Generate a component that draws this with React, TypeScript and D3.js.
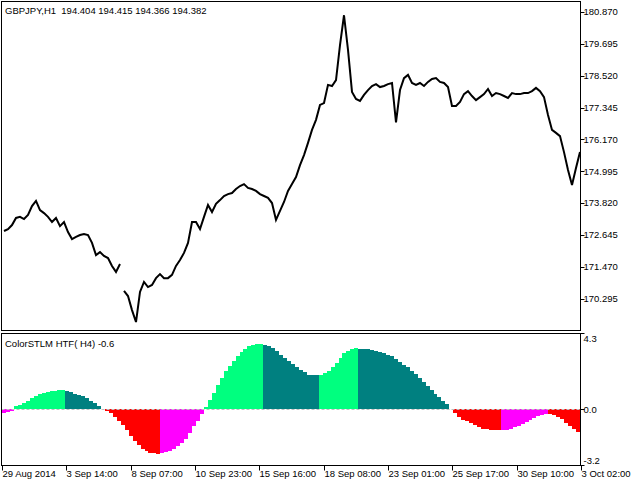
import React from "react";
import * as d3 from "d3";

const title = "GBPJPY,H1  194.404 194.415 194.366 194.382";
const indTitle = "ColorSTLM HTF( H4) -0.6";

// price axis ticks
const priceTicks = [180.87, 179.695, 178.52, 177.345, 176.17, 174.995, 173.82, 172.645, 171.47, 170.295];

// close prices, one per 4 hours
const closes = [
  172.79, 172.86, 173.01, 173.27, 173.31, 173.23, 173.38, 173.71, 173.9, 173.56,
  173.45, 173.31, 173.12, 173.27, 172.97, 173.12, 172.75, 172.49, 172.57, 172.64,
  172.68, 172.64, 172.35, 171.9, 172.01, 171.87, 171.79, 171.5, 171.28, 171.57,
  170.58, 170.39, 169.87, 169.43, 170.54, 170.91, 170.72, 170.8, 171.05, 171.2,
  171.05, 171.05, 171.17, 171.5, 171.72, 171.98, 172.35, 173.12, 173.12, 172.86,
  173.31, 173.75, 173.49, 173.79, 173.93, 174.08, 174.15, 174.19, 174.34, 174.45,
  174.52, 174.38, 174.34, 174.27, 174.15, 174.08, 174.01, 173.82, 173.2, 173.53,
  173.86, 174.27, 174.52, 174.78, 175.22, 175.59, 176.04, 176.52, 176.89, 177.44,
  177.51, 178.18, 178.14, 178.36, 179.65, 180.75, 179.47, 177.92, 177.66, 177.59,
  177.81, 177.99, 178.14, 178.21, 178.1, 178.14, 178.21, 178.25, 176.8, 177.99,
  178.43, 178.55, 178.25, 178.18, 178.25, 178.14, 178.29, 178.4, 178.43, 178.29,
  178.25, 178.1, 177.4, 177.4, 177.55, 177.84, 177.95, 177.77, 177.62, 177.73,
  177.84, 178.03, 177.77, 177.88, 177.84, 177.77, 177.7, 177.88, 177.84, 177.84,
  177.88, 177.88, 177.95, 178.07, 177.95, 177.73, 177.07, 176.52, 176.41, 176.29,
  175.7, 175.04, 174.49, 175.11, 175.7,
];
const gapAfter = 29; // weekend gap

// ColorSTLM HTF(H4) values
const stlm = [
  -0.25, -0.2, -0.15,
  0.13, 0.23, 0.32, 0.45, 0.61, 0.74, 0.83, 0.91, 0.97, 1.0, 1.02, 1.04, 1.05,
  1.02, 0.95, 0.85, 0.78, 0.72, 0.61, 0.45, 0.3, 0.17,
  0,
  -0.15, -0.25, -0.49, -0.68, -0.91, -1.19, -1.53, -1.82, -2.08, -2.27, -2.42, -2.5, -2.54, -2.55,
  -2.54, -2.48, -2.39, -2.27, -2.14, -1.95, -1.7, -1.38, -1.0, -0.68, -0.3,
  0.11, 0.51, 0.89, 1.36, 1.74, 2.12, 2.41, 2.69, 2.97, 3.22, 3.41, 3.54, 3.64, 3.67, 3.69,
  3.64, 3.54, 3.45, 3.26, 3.03, 2.88, 2.73, 2.54, 2.35, 2.22, 2.08, 1.89, 1.89, 1.89,
  1.93, 2.03, 2.16, 2.35, 2.59, 2.88, 3.16, 3.3, 3.41, 3.42,
  3.41, 3.41, 3.39, 3.35, 3.3, 3.22, 3.16, 3.07, 2.97, 2.82, 2.65, 2.5, 2.35, 2.16, 1.97, 1.74,
  1.52, 1.27, 1.04, 0.83, 0.64, 0.45, 0.27,
  0,
  -0.25, -0.49, -0.63, -0.72, -0.83, -0.95, -1.06, -1.14, -1.17, -1.21, -1.23, -1.23,
  -1.22, -1.21, -1.16, -1.06, -0.97, -0.87, -0.78, -0.64, -0.53, -0.44, -0.34, -0.3,
  -0.31, -0.38, -0.45, -0.57, -0.81, -1.0, -1.14, -1.33,
];
const indTicks = [4.3, 0.0, -3.2];

const timeLabels = [
  "29 Aug 2014", "3 Sep 14:00", "8 Sep 07:00", "10 Sep 23:00", "15 Sep 16:00",
  "18 Sep 08:00", "23 Sep 01:00", "25 Sep 17:00", "30 Sep 10:00", "3 Oct 02:00",
];
const timeBars = [0, 64, 128, 192, 256, 320, 384, 448, 512, 576];

const GREEN = "#00FF7F";
const TEAL = "#008080";
const RED = "#FF0000";
const MAGENTA = "#FF00FF";

const font = "Tahoma, 'Liberation Sans', sans-serif";

export default function App() {
  const W = 632;
  const H = 485;
  const L = 1.5;
  const R = 580.5;
  const mainTop = 1.5;
  const mainBottom = 330.5;
  const indTop = 333.5;
  const indBottom = 465.5;

  const priceX = d3.scaleLinear().domain([0, closes.length - 1]).range([4, 580]);
  const priceY = d3.scaleLinear().domain([170.295, 180.87]).range([298.6, 12]);

  const barX = d3.scaleLinear().domain([0, stlm.length]).range([2, 580]);
  const indY = d3.scaleLinear().domain([-3.2, 4.3]).range([465, 333]);

  const timeX = d3.scaleLinear().domain([0, 576]).range([2, 581]);

  const line = d3
    .line<number>()
    .x((_, i) => priceX(i))
    .y((d) => priceY(d));
  const seg1 = closes.slice(0, gapAfter + 1);
  const seg2 = closes.slice(gapAfter + 1);
  const path1 = line(seg1) ?? "";
  const path2 =
    d3
      .line<number>()
      .x((_, i) => priceX(i + gapAfter + 1))
      .y((d) => priceY(d))(seg2) ?? "";

  let rising = true;
  const colors = stlm.map((v, i) => {
    if (i > 0) {
      if (v > stlm[i - 1]) rising = true;
      else if (v < stlm[i - 1]) rising = false;
    }
    if (v >= 0) return rising ? GREEN : TEAL;
    return rising ? MAGENTA : RED;
  });

  const y0 = indY(0);

  return (
    <svg
      width={W}
      height={H}
      style={{ position: "absolute", left: 0, top: 0, display: "block", background: "#fff" }}
      fontFamily={font}
      fontSize={9.5}
    >
      <defs>
        <clipPath id="mainClip">
          <rect x={L} y={mainTop} width={R - L} height={mainBottom - mainTop} />
        </clipPath>
      </defs>

      {/* main panel */}
      <g clipPath="url(#mainClip)">
        <path d={path1} fill="none" stroke="#000" strokeWidth={2} strokeLinejoin="miter" />
        <path d={path2} fill="none" stroke="#000" strokeWidth={2} strokeLinejoin="miter" />
      </g>
      <rect x={L} y={mainTop} width={R - L} height={mainBottom - mainTop} fill="none" stroke="#000" strokeWidth={1} />
      <text x={5} y={14} fill="#000" style={{ whiteSpace: "pre" }}>
        {title}
      </text>
      {priceTicks.map((v) => (
        <g key={v}>
          <line x1={R} x2={R + 4} y1={Math.round(priceY(v)) + 0.5} y2={Math.round(priceY(v)) + 0.5} stroke="#000" />
          <text x={R + 3} y={priceY(v)} dy="0.35em" fill="#000">
            {v.toFixed(3)}
          </text>
        </g>
      ))}

      {/* indicator panel */}
      <g shapeRendering="crispEdges">
        {stlm.map((v, i) => {
          const x0 = Math.round(barX(i));
          const x1 = Math.round(barX(i + 1));
          const yv = indY(v);
          return (
            <rect
              key={i}
              x={x0}
              y={Math.min(yv, y0)}
              width={x1 - x0}
              height={Math.abs(yv - y0)}
              fill={colors[i]}
            />
          );
        })}
      </g>
      <line x1={L} x2={R} y1={Math.round(y0) + 0.5} y2={Math.round(y0) + 0.5} stroke="#C0C0C0" strokeDasharray="3 2" />
      <rect x={L} y={indTop} width={R - L} height={indBottom - indTop} fill="none" stroke="#000" strokeWidth={1} />
      <text x={5} y={347} fill="#000">
        {indTitle}
      </text>
      {indTicks.map((v, i) => {
        const ty = Math.round(indY(v)) + 0.5;
        const ly = i === 0 ? ty + 5 : i === indTicks.length - 1 ? ty - 5 : ty;
        return (
          <g key={v}>
            <line x1={R} x2={R + 4} y1={ty} y2={ty} stroke="#000" />
            <text x={R + 3} y={ly} dy="0.35em" fill="#000">
              {v.toFixed(1)}
            </text>
          </g>
        );
      })}

      {/* time axis */}
      {timeBars.map((b, i) => {
        const tx = Math.round(timeX(b)) + 0.5;
        return (
          <g key={b}>
            <line x1={tx} x2={tx} y1={indBottom} y2={indBottom + 5} stroke="#000" />
            <text x={tx} y={477} fill="#000">
              {timeLabels[i]}
            </text>
          </g>
        );
      })}
    </svg>
  );
}
